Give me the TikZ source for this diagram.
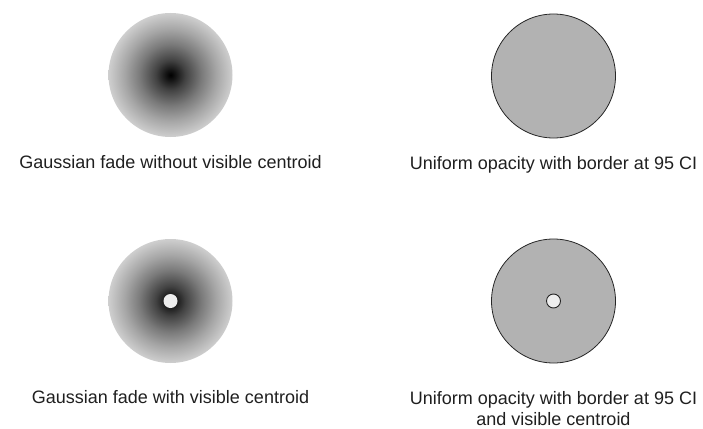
\documentclass[tikz,border=0pt]{standalone}
\usepackage{fontspec}
\setmainfont{Liberation Sans}
\usepackage{tikz}
\usetikzlibrary{shapes.geometric, positioning}

% radial fade: the middle 25bp radius is what fills the circle
\pgfdeclareradialshading{gaussfade}{\pgfpoint{0bp}{0bp}}{%
  color(0bp)=(black);
  color(2bp)=(black!92);
  color(6bp)=(black!74);
  color(12.5bp)=(black!52);
  color(18.5bp)=(black!35);
  color(25bp)=(black!19);
  color(50bp)=(black!19)}

\begin{document}
\begin{tikzpicture}[
    x=1pt, y=-1pt,
    blob/.style={circle, minimum size=124pt, inner sep=0pt},
    gauss/.style={blob, shading=gaussfade},
    uniform/.style={blob, draw=black!85, line width=0.8pt, fill=black!30},
    dot/.style={circle, minimum size=14pt, inner sep=0pt, fill=black!7},
    caption/.style={align=center, text=black!88, font=\fontsize{18}{21}\selectfont},
]
\useasboundingbox (0,0) rectangle (703,428);

% Gaussian fade, no centroid
\node[gauss] (gaussA) at (170.5,75) {};
\node[caption, anchor=base] (capA) at (170.5,168) {Gaussian fade without visible centroid};

% Uniform opacity, no centroid
\node[uniform] (unifA) at (553.5,76) {};
\node[caption, anchor=base] (capB) at (553.5,169) {Uniform opacity with border at 95 CI};

% Gaussian fade + centroid
\node[gauss] (gaussB) at (170.5,301) {};
\node[dot] (dotA) at (gaussB.center) {};
\node[caption, anchor=base] (capC) at (170.5,403) {Gaussian fade with visible centroid};

% Uniform opacity + centroid
\node[uniform] (unifB) at (553.5,301) {};
\node[dot, draw=black!85, line width=0.9pt] (dotB) at (unifB.center) {};
\node[caption] (capD) at (553.5,408.5) {Uniform opacity with border at 95 CI\\and visible centroid};
\end{tikzpicture}
\end{document}
